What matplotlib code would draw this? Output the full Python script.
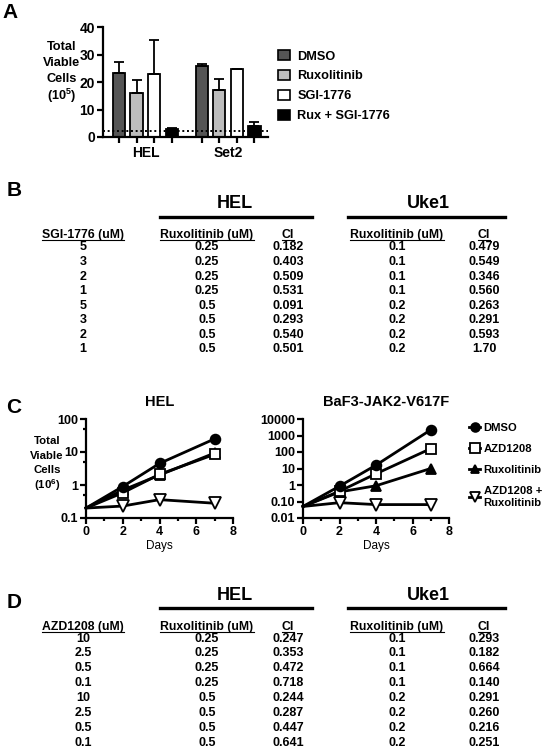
import matplotlib
matplotlib.use('Agg')
import matplotlib.pyplot as plt
from matplotlib.patches import Patch
from matplotlib.lines import Line2D
from matplotlib.ticker import FixedLocator, NullFormatter

plt.rcParams['font.family'] = ['Liberation Sans', 'DejaVu Sans']
plt.rcParams['font.weight'] = 'bold'
plt.rcParams['mathtext.fontset'] = 'custom'
plt.rcParams['mathtext.rm'] = 'Liberation Sans:bold'
plt.rcParams['mathtext.bf'] = 'Liberation Sans:bold'
plt.rcParams['mathtext.it'] = 'Liberation Sans:bold'
plt.rcParams['mathtext.default'] = 'rm'

# ---------------- Panel A data ----------------
a_groups = ['HEL', 'Set2']
a_treatments = ['DMSO', 'Ruxolitinib', 'SGI-1776', 'Rux + SGI-1776']
a_hel_mean = [23.4, 16.0, 22.9, 2.9]
a_hel_err = [4.1, 4.8, 12.5, 0.3]
a_set2_mean = [25.9, 17.0, 24.9, 3.9]
a_set2_err = [0.7, 4.2, 0.0, 1.6]
a_baseline = 2.1
a_colors = ['#555555', '#bdbdbd', '#ffffff', '#000000']

# ---------------- Panel B data ----------------
b_sgi = ['5', '3', '2', '1', '5', '3', '2', '1']
b_hel_rux = ['0.25', '0.25', '0.25', '0.25', '0.5', '0.5', '0.5', '0.5']
b_hel_ci = ['0.182', '0.403', '0.509', '0.531', '0.091', '0.293', '0.540', '0.501']
b_uke_rux = ['0.1', '0.1', '0.1', '0.1', '0.2', '0.2', '0.2', '0.2']
b_uke_ci = ['0.479', '0.549', '0.346', '0.560', '0.263', '0.291', '0.593', '1.70']

# ---------------- Panel C data ----------------
c_days = [0, 2, 4, 7]
c_labels = ['DMSO', 'AZD1208', 'Ruxolitinib', 'AZD1208 +\nRuxolitinib']
c_hel_dmso = [0.2, 0.9, 4.5, 25]
c_hel_azd = [0.2, 0.58, 2.1, 8.5]
c_hel_rux = [0.2, 0.7, 2.0, 9.3]
c_hel_combo = [0.2, 0.23, 0.36, 0.28]
c_baf_dmso = [0.05, 0.85, 16, 2200]
c_baf_azd = [0.05, 0.42, 4.8, 160]
c_baf_rux = [0.05, 0.38, 0.9, 10]
c_baf_combo = [0.05, 0.085, 0.065, 0.065]

# ---------------- Panel D data ----------------
d_azd = ['10', '2.5', '0.5', '0.1', '10', '2.5', '0.5', '0.1']
d_hel_rux = ['0.25', '0.25', '0.25', '0.25', '0.5', '0.5', '0.5', '0.5']
d_hel_ci = ['0.247', '0.353', '0.472', '0.718', '0.244', '0.287', '0.447', '0.641']
d_uke_rux = ['0.1', '0.1', '0.1', '0.1', '0.2', '0.2', '0.2', '0.2']
d_uke_ci = ['0.293', '0.182', '0.664', '0.140', '0.291', '0.260', '0.216', '0.251']

W, H = 548, 748
fig = plt.figure(figsize=(W / 100, H / 100), dpi=100)


def rect(x0, y0, x1, y1):
    return [x0 / W, 1 - y1 / H, (x1 - x0) / W, (y1 - y0) / H]


def fx(x):
    return x / W


def fy(y):
    return 1 - y / H


def style_axes(ax, lw=1.6):
    for s in ['top', 'right']:
        ax.spines[s].set_visible(False)
    for s in ['left', 'bottom']:
        ax.spines[s].set_linewidth(lw)
    ax.tick_params(which='major', length=4, width=lw, direction='out')
    ax.tick_params(which='minor', length=2.5, width=lw, direction='out')


# ================= Panel A =================
fig.text(fx(2), fy(12), 'A', fontsize=15, ha='left', va='center')
axA = fig.add_axes(rect(102.7, 27.3, 268, 137))
style_axes(axA)
offsets = [0, 4.7]
for i, t in enumerate(a_treatments):
    xs = [offsets[0] + i, offsets[1] + i]
    ys = [a_hel_mean[i], a_set2_mean[i]]
    es = [a_hel_err[i], a_set2_err[i]]
    axA.bar(xs, ys, width=0.7, color=a_colors[i], edgecolor='black', linewidth=1.3,
            yerr=[[0, 0], es], capsize=3.5,
            error_kw=dict(elinewidth=1.3, capthick=1.3, ecolor='black'), zorder=2,
            label=t)
axA.axhline(a_baseline, ls=(0, (1, 1.4)), color='black', lw=1.4, zorder=5)
axA.set_ylim(0, 40)
axA.set_xlim(-0.93, 8.47)
axA.set_yticks([0, 10, 20, 30, 40])
axA.set_xticks([o + i for o in offsets for i in range(4)])
axA.set_xticklabels([''] * 8)
axA.set_xticks([o + 1.5 for o in offsets], minor=True)
axA.set_xticklabels(a_groups, minor=True)
axA.tick_params(axis='x', which='minor', length=0, pad=6.5, labelsize=10)
axA.tick_params(axis='y', labelsize=10, pad=1.5)
ylabA = ['Total', 'Viable', 'Cells', '(10$^{5}$)']
for lab, yy in zip(ylabA, [47, 63, 79.5, 96]):
    fig.text(fx(62), fy(yy), lab, fontsize=9.2, ha='center', va='center')
handlesA = [Patch(facecolor=c, edgecolor='black', linewidth=1.2) for c in a_colors]
fig.legend(handlesA, a_treatments, loc='upper left', bbox_to_anchor=(fx(278), fy(50)),
           frameon=False, fontsize=9.2, handlelength=0.95, handleheight=0.85,
           handletextpad=0.55, labelspacing=0.58, borderpad=0, borderaxespad=0)


# ================= Tables =================
col_x = [83, 207, 288, 397, 484]
header_texts = []


def draw_table(letter, letter_y, title_y, line_y, header_y, row0, drow, first_header, cols):
    fig.text(fx(7), fy(letter_y), letter, fontsize=15, ha='left', va='center')
    fig.text(fx(235), fy(title_y), 'HEL', fontsize=13, ha='center', va='center')
    fig.text(fx(428), fy(title_y), 'Uke1', fontsize=13, ha='center', va='center')
    fig.add_artist(Line2D([fx(160), fx(312)], [fy(line_y), fy(line_y)], color='black', lw=2.4))
    fig.add_artist(Line2D([fx(348), fx(505)], [fy(line_y), fy(line_y)], color='black', lw=2.4))
    headers = [first_header, 'Ruxolitinib (uM)', 'CI', 'Ruxolitinib (uM)', 'CI']
    fs_h = 8.8
    base = header_y + 0.36 * fs_h * 100 / 72
    for cx, h in zip(col_x, headers):
        t = fig.text(fx(cx), fy(base), h, fontsize=fs_h, ha='center', va='baseline')
        header_texts.append((t, base))
    for j, col in enumerate(cols):
        for r, v in enumerate(col):
            fig.text(fx(col_x[j]), fy(row0 + r * drow), v, fontsize=9, ha='center', va='center')


draw_table('B', 191, 203, 216.5, 234, 247.3, 14.6, 'SGI-1776 (uM)',
           [b_sgi, b_hel_rux, b_hel_ci, b_uke_rux, b_uke_ci])
draw_table('D', 602, 595, 608, 626, 638.5, 14.9, 'AZD1208 (uM)',
           [d_azd, d_hel_rux, d_hel_ci, d_uke_rux, d_uke_ci])

# ================= Panel C =================
fig.text(fx(6), fy(408), 'C', fontsize=15, ha='left', va='center')
series_style = [
    dict(marker='o', mfc='black', ms=7),
    dict(marker='s', mfc='white', ms=7.5),
    dict(marker='^', mfc='black', ms=7),
    dict(marker='v', mfc='white', ms=8),
]

axC1 = fig.add_axes(rect(86, 419, 233, 518))
axC2 = fig.add_axes(rect(303, 419, 449, 518))
for ax, data, ylim, yt, ytl, minors in [
        (axC1, [c_hel_dmso, c_hel_azd, c_hel_rux, c_hel_combo], (0.1, 100),
         [0.1, 1, 10, 100], ['0.1', '1', '10', '100'], [0.5, 5, 50]),
        (axC2, [c_baf_dmso, c_baf_azd, c_baf_rux, c_baf_combo], (0.01, 10000),
         [0.01, 0.1, 1, 10, 100, 1000, 10000],
         ['0.01', '0.10', '1', '10', '100', '1000', '10000'], [])]:
    style_axes(ax)
    for k, vals in enumerate(data):
        st = series_style[k]
        ax.plot(c_days, vals, color='black', lw=2, marker=st['marker'], ms=st['ms'],
                mfc=st['mfc'], mec='black', mew=1.3, markevery=[1, 2, 3],
                zorder=3 + (3 - k), clip_on=False)
    ax.set_yscale('log')
    ax.set_ylim(*ylim)
    ax.set_xlim(0, 8)
    ax.yaxis.set_major_locator(FixedLocator(yt))
    ax.set_yticklabels(ytl)
    ax.yaxis.set_minor_locator(FixedLocator(minors))
    ax.yaxis.set_minor_formatter(NullFormatter())
    ax.set_xticks([0, 2, 4, 6, 8])
    ax.set_xticks([1, 3, 5, 7], minor=True)
    ax.tick_params(axis='both', which='major', labelsize=9, pad=1.5)
    ax.set_xlabel('Days', fontsize=8.5, labelpad=2)

fig.text(fx(159.5), fy(402), 'HEL', fontsize=10.5, ha='center', va='center')
fig.text(fx(386), fy(402), 'BaF3-JAK2-V617F', fontsize=10.5, ha='center', va='center')
ylabC = ['Total', 'Viable', 'Cells', '(10$^{6}$)']
for lab, yy in zip(ylabC, [441, 456, 470, 485]):
    fig.text(fx(47), fy(yy), lab, fontsize=8.2, ha='center', va='center')

handlesC = [Line2D([], [], color='black', lw=2, marker=s['marker'], ms=s['ms'] * 0.9,
                   mfc=s['mfc'], mec='black', mew=1.3) for s in series_style]
fig.legend(handlesC, c_labels, loc='upper left', bbox_to_anchor=(fx(469), fy(423)),
           frameon=False, fontsize=8.1, handlelength=1.0, handletextpad=0.3,
           labelspacing=0.98, borderpad=0, borderaxespad=0)

# underlines for table headers
fig.canvas.draw()
renderer = fig.canvas.get_renderer()
for t, base in header_texts:
    bb = t.get_window_extent(renderer)
    yl = base + 1.6
    fig.add_artist(Line2D([bb.x0 / W, bb.x1 / W], [fy(yl), fy(yl)], color='black', lw=0.8))

fig.savefig('out.png', dpi=100)
